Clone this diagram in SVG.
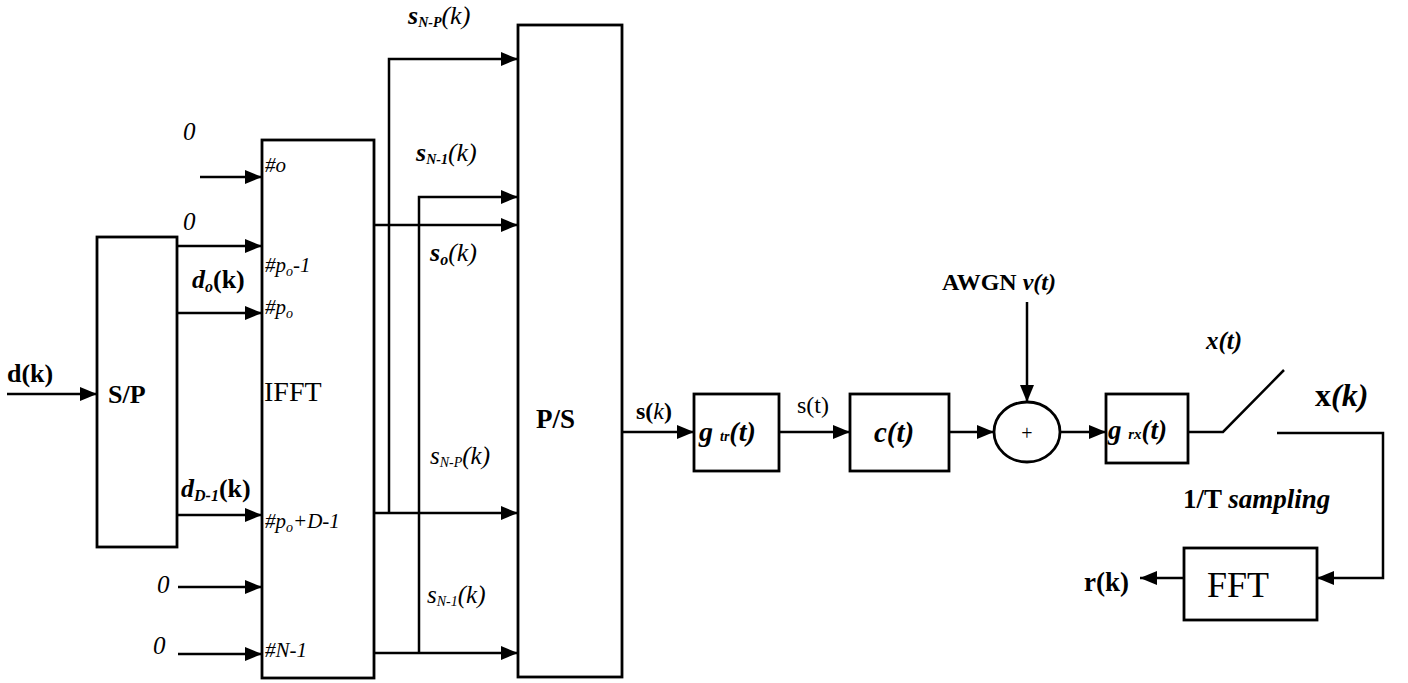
<svg xmlns="http://www.w3.org/2000/svg" width="1408" height="683" viewBox="0 0 1408 683" font-family="'Liberation Serif', 'Times New Roman', serif">
<defs>
<marker id="ar" markerUnits="userSpaceOnUse" markerWidth="18" markerHeight="14" refX="17" refY="7" orient="auto">
<path d="M0,0 L17,7 L0,14 Z" fill="#000"/>
</marker>
<style>
.b{fill:#fff;stroke:#000;stroke-width:2.8}
.c{fill:none;stroke:#000;stroke-width:2.5}
.a{fill:none;stroke:#000;stroke-width:2.5;marker-end:url(#ar)}
text{font-family:'Liberation Serif','Times New Roman',serif;fill:#000}
.bi{font-weight:bold;font-style:italic}
.bd{font-weight:bold}
.it{font-style:italic}
</style>
</defs>
<rect width="1408" height="683" fill="#fff"/>
<g id="connectors">
<line class="a" x1="7" y1="394" x2="97" y2="394"/>
<line class="a" x1="200" y1="177" x2="262" y2="177"/>
<line class="a" x1="177" y1="246" x2="262" y2="246"/>
<line class="a" x1="177" y1="313" x2="262" y2="313"/>
<line class="a" x1="177" y1="515" x2="262" y2="515"/>
<line class="a" x1="178" y1="587" x2="262" y2="587"/>
<line class="a" x1="178" y1="654" x2="262" y2="654"/>
<line class="a" x1="374" y1="225" x2="518" y2="225"/>
<polyline class="a" points="389,513 389,59 518,59"/>
<polyline class="a" points="419,653 419,197 518,197"/>
<line class="a" x1="374" y1="513" x2="518" y2="513"/>
<line class="a" x1="374" y1="653" x2="518" y2="653"/>
<line class="a" x1="622" y1="432" x2="694" y2="432"/>
<line class="a" x1="779" y1="432" x2="850" y2="432"/>
<line class="a" x1="949" y1="432" x2="994" y2="432"/>
<line class="a" x1="1027" y1="302" x2="1027" y2="402"/>
<line class="a" x1="1060" y1="432" x2="1106" y2="432"/>
<polyline class="c" points="1188,432 1223,432 1284,370"/>
<polyline class="a" points="1277,433 1383,433 1383,578 1317,578"/>
<line class="a" x1="1184" y1="578" x2="1140" y2="578"/>
</g>
<g id="sp">
<rect class="b" x="97" y="237" width="80" height="310"/>
<text x="108" y="403" font-size="26" class="bd">S/P</text>
</g>
<g id="ifft">
<rect class="b" x="262" y="140" width="112" height="538"/>
<text x="265" y="172" font-size="21" class="it">#o</text>
<text x="265" y="272" font-size="21" class="it">#p<tspan font-size="14" dy="4">o</tspan><tspan dy="-4">-1</tspan></text>
<text x="265" y="314" font-size="21" class="it">#p<tspan font-size="14" dy="4">o</tspan></text>
<text x="264" y="401" font-size="28">IFFT</text>
<text x="265" y="528" font-size="21" class="it">#p<tspan font-size="14" dy="4">o</tspan><tspan dy="-4">+D-1</tspan></text>
<text x="265" y="657" font-size="21" class="it">#N-1</text>
</g>
<g id="ps">
<rect class="b" x="518" y="25" width="104" height="652"/>
<text x="536" y="428" font-size="27" class="bd">P/S</text>
</g>
<g id="gtr">
<rect class="b" x="694" y="394" width="85" height="77"/>
<text x="699" y="441" font-size="28" class="bi">g <tspan font-size="14">tr</tspan>(t)</text>
</g>
<g id="ct">
<rect class="b" x="850" y="394" width="99" height="77"/>
<text x="874" y="442" font-size="29" class="bi">c(t)</text>
</g>
<g id="sum">
<ellipse class="b" cx="1027" cy="432" rx="33" ry="30"/>
<text x="1027" y="440" font-size="20" text-anchor="middle">+</text>
</g>
<g id="grx">
<rect class="b" x="1106" y="394" width="82" height="69"/>
<text x="1108" y="439" font-size="27" class="bi">g <tspan font-size="15">rx</tspan>(t)</text>
</g>
<g id="fft">
<rect class="b" x="1184" y="548" width="133" height="72"/>
<text x="1207" y="597" font-size="36">FFT</text>
</g>
<g id="labels">
<text x="7" y="382" font-size="26" class="bd">d(k)</text>
<text x="183" y="140" font-size="25" class="it">0</text>
<text x="183" y="230" font-size="25" class="it">0</text>
<text x="192" y="288" font-size="26" class="bd"><tspan class="bi">d</tspan><tspan class="bi" font-size="16" dy="4">o</tspan><tspan dy="-4">(k)</tspan></text>
<text x="181" y="497" font-size="26" class="bd"><tspan class="bi">d</tspan><tspan class="bi" font-size="16" dy="4">D-1</tspan><tspan dy="-4">(k)</tspan></text>
<text x="157" y="593" font-size="25" class="it">0</text>
<text x="153" y="654" font-size="25" class="it">0</text>
<text x="408" y="24" font-size="26" class="bi">s<tspan font-size="14" dy="3">N-P</tspan><tspan dy="-3" font-weight="normal">(k)</tspan></text>
<text x="416" y="161" font-size="26" class="bi">s<tspan font-size="14" dy="3">N-1</tspan><tspan dy="-3" font-weight="normal">(k)</tspan></text>
<text x="430" y="261" font-size="26" class="bi">s<tspan font-size="16" dy="4">o</tspan><tspan dy="-4" font-weight="normal">(k)</tspan></text>
<text x="430" y="464" font-size="25" class="it">s<tspan font-size="14" dy="3">N-P</tspan><tspan dy="-3">(k)</tspan></text>
<text x="427" y="603" font-size="25" class="it">s<tspan font-size="14" dy="3">N-1</tspan><tspan dy="-3">(k)</tspan></text>
<text x="636" y="419" font-size="24" class="bd">s(<tspan class="it" font-weight="normal">k</tspan>)</text>
<text x="797" y="413" font-size="24">s(t)</text>
<text x="942" y="290" font-size="24" class="bd">AWGN <tspan class="bi">v(t)</tspan></text>
<text x="1206" y="349" font-size="25" class="bi">x(t)</text>
<text x="1315" y="406" font-size="32" class="bd">x<tspan class="bi">(k)</tspan></text>
<text x="1183" y="508" font-size="27" class="bd">1/T <tspan class="bi">sampling</tspan></text>
<text x="1084" y="591" font-size="27" class="bd">r(k)</text>
</g>
</svg>
